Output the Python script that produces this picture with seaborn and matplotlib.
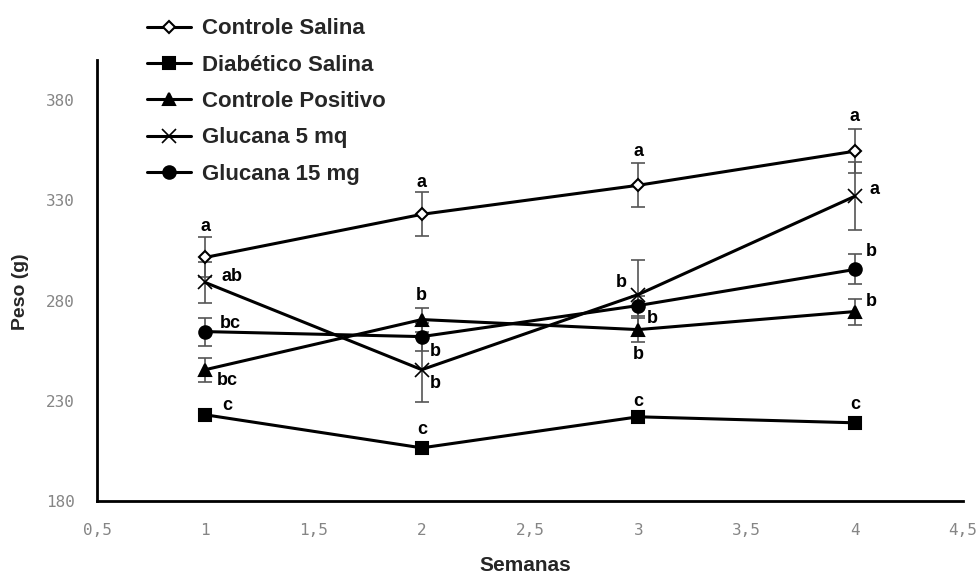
import matplotlib
matplotlib.use("Agg")
import matplotlib.pyplot as plt
import seaborn as sns
import pandas as pd
from matplotlib.ticker import FuncFormatter

weeks = [1, 2, 3, 4]
series_names = ["Controle Salina", "Diabético Salina", "Controle Positivo",
                "Glucana 5 mq", "Glucana 15 mg"]
controle_salina = [301.5, 323, 337.5, 354.5]
controle_salina_err = [10, 11, 11, 11]
diabetico_salina = [223, 206.5, 222, 219]
diabetico_salina_err = [2.5, 3, 3, 3]
controle_positivo = [245.5, 270.5, 265.5, 274.5]
controle_positivo_err = [6, 6, 6, 6.5]
glucana_5 = [289, 245.5, 283, 332]
glucana_5_err = [10, 16, 17, 17]
glucana_15 = [264.5, 262, 277.5, 295.5]
glucana_15_err = [7, 7, 5, 7.5]
letters = {
    "Controle Salina": ["a", "a", "a", "a"],
    "Diabético Salina": ["c", "c", "c", "c"],
    "Controle Positivo": ["bc", "b", "b", "b"],
    "Glucana 5 mq": ["ab", "b", "b", "a"],
    "Glucana 15 mg": ["bc", "b", "b", "b"],
}
y_ticks = [180, 230, 280, 330, 380]
x_ticks = [0.5, 1, 1.5, 2, 2.5, 3, 3.5, 4, 4.5]

values = [controle_salina, diabetico_salina, controle_positivo, glucana_5, glucana_15]
errors = [controle_salina_err, diabetico_salina_err, controle_positivo_err,
          glucana_5_err, glucana_15_err]
markers = ["D", "s", "^", "x", "o"]
msizes = [6, 9, 9, 10, 9]
faces = ["white", "black", "black", "black", "black"]

sns.set_style("white")
plt.rcParams['font.family'] = ['Liberation Sans', 'DejaVu Sans']

fig = plt.figure(figsize=(9.78, 5.74), dpi=100)
ax = fig.add_axes([0.0992, 0.1272, 0.8855, 0.7683])

for name, vals, errs, m, ms, fc in zip(series_names, values, errors, markers, msizes, faces):
    ax.errorbar(weeks, vals, yerr=errs, fmt="none", ecolor="#555555",
                elinewidth=1.2, capsize=5, capthick=1.2, zorder=1)
    df = pd.DataFrame({"Semanas": weeks, "Peso": vals})
    sns.lineplot(data=df, x="Semanas", y="Peso", ax=ax, color="black", lw=2.2,
                 marker=m, markersize=ms, markerfacecolor=fc,
                 markeredgecolor="black", markeredgewidth=1.5 if m != "x" else 1.2,
                 label=name, zorder=3)

# significance letters (offsets in points)
offsets = {
    "Controle Salina": [(0, 22), (0, 23), (0, 24), (0, 25)],
    "Diabético Salina": [(16, 7), (0, 13), (0, 11), (0, 13)],
    "Controle Positivo": [(16, -8), (0, 17), (0, -18), (12, 7)],
    "Glucana 5 mq": [(19, 4), (10, -10), (-12, 9), (14, 5)],
    "Glucana 15 mg": [(18, 6), (10, -11), (10, -9), (12, 13)],
}
for name, vals in zip(series_names, values):
    for i, (x, y) in enumerate(zip(weeks, vals)):
        dx, dy = offsets[name][i]
        ax.annotate(letters[name][i], (x, y), xytext=(dx, dy), textcoords="offset points",
                    ha="center", va="center", fontsize=13, fontweight="bold",
                    color="black")

ax.set_xlim(0.5, 4.5)
ax.set_ylim(180, 400)
ax.set_xticks(x_ticks)
ax.set_yticks(y_ticks)
fmt = FuncFormatter(lambda v, p: (f"{v:g}").replace(".", ","))
ax.xaxis.set_major_formatter(fmt)
ax.tick_params(axis="both", direction="out", length=6, width=1.5, colors="black",
               labelcolor="#858585", labelsize=11.5)
ax.tick_params(axis="x", pad=10)
ax.tick_params(axis="y", pad=10)
for lab in ax.get_xticklabels() + ax.get_yticklabels():
    lab.set_fontfamily(["DejaVu Sans Mono"])
for s in ["top", "right"]:
    ax.spines[s].set_visible(False)
for s in ["left", "bottom"]:
    ax.spines[s].set_linewidth(2)
    ax.spines[s].set_color("black")

ax.set_xlabel("Semanas", fontsize=15, fontweight="bold")
ax.xaxis.set_label_coords(0.494, -0.124)
ax.set_ylabel("Peso (g)", fontsize=14, fontweight="bold")
ax.yaxis.set_label_coords(-0.078, 0.474)

leg = ax.legend(loc="upper left", bbox_to_anchor=(0.133, 0.997), bbox_transform=fig.transFigure,
                frameon=False, prop={"size": 16, "weight": "bold"},
                handlelength=2.0, labelspacing=0.69, handletextpad=0.5, borderpad=0.25)

fig.savefig("out.png", dpi=100, facecolor="white")
